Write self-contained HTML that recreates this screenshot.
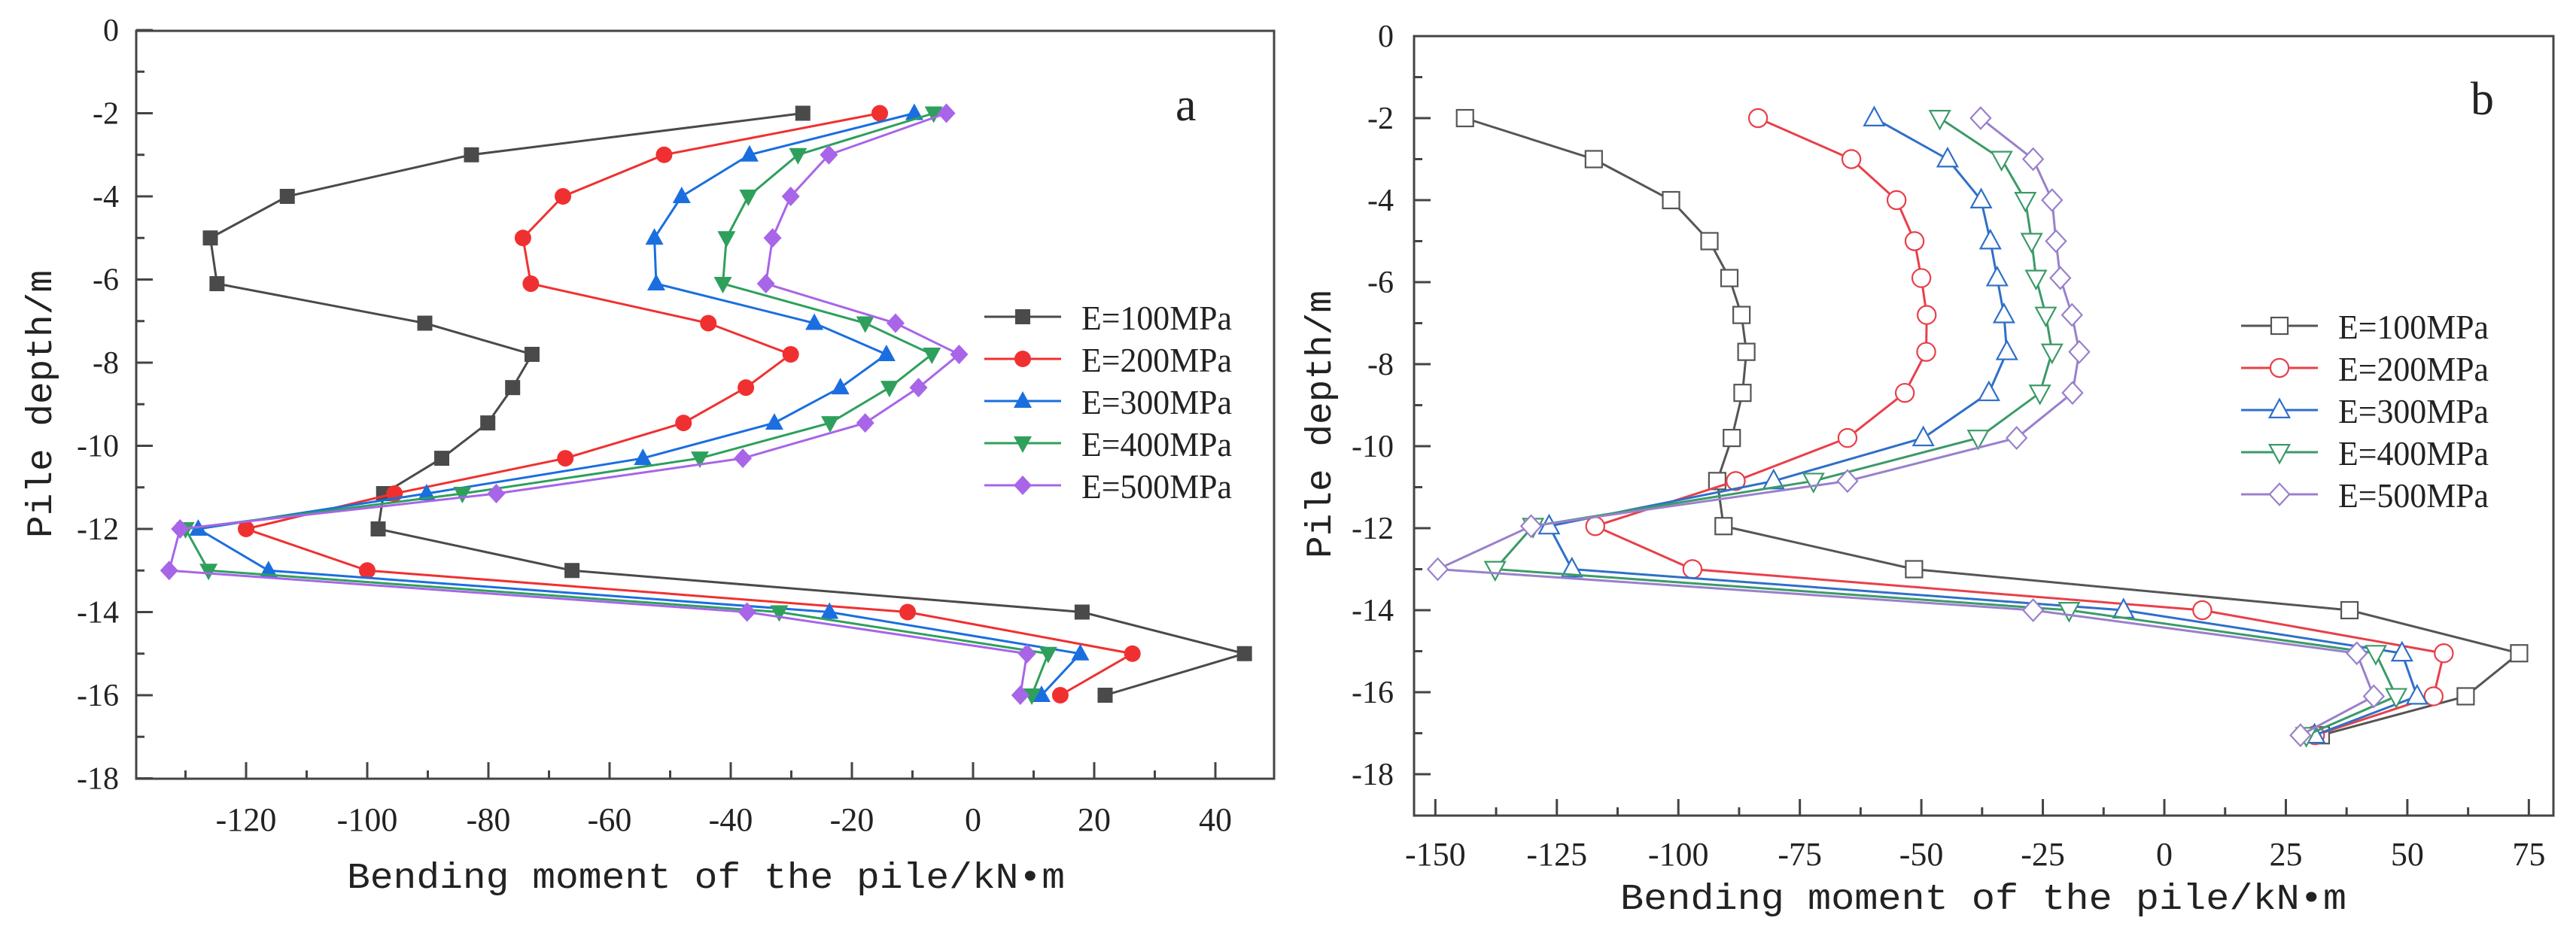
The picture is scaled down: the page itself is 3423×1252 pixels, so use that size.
<!DOCTYPE html>
<html><head><meta charset="utf-8">
<style>
html,body{margin:0;padding:0;background:#fff;}
svg{display:block;}
text{font-family:"Liberation Serif","Noto Serif CJK SC",serif;fill:#222;}
text.mono{font-family:"Liberation Mono","Noto Sans CJK SC",monospace;}
</style></head>
<body>
<svg id="chart" width="3423" height="1252" viewBox="0 0 3423 1252" xmlns="http://www.w3.org/2000/svg"></svg>
<script>
// ---- Panel a data ----
const seriesNames = ["E=100MPa","E=200MPa","E=300MPa","E=400MPa","E=500MPa"];
const depthsA = [-2,-3,-4,-5,-6.1,-7.05,-7.8,-8.6,-9.45,-10.3,-11.15,-12,-13,-14,-15,-16];
const a100 = [-28.1,-82.8,-113.2,-125.9,-124.8,-90.5,-72.8,-76,-80.1,-87.7,-97.3,-98.2,-66.2,18,44.8,21.8];
const a200 = [-15.4,-51,-67.7,-74.3,-73,-43.7,-30.1,-37.5,-47.8,-67.3,-95.5,-120,-100,-10.8,26.3,14.4];
const a300 = [-9.7,-36.9,-48.1,-52.6,-52.3,-26.2,-14.3,-21.9,-32.8,-54.5,-90.2,-127.9,-116.3,-23.7,17.7,11.3];
const a400 = [-6.5,-28.9,-37.1,-40.7,-41.3,-17.8,-6.8,-13.8,-23.6,-45.1,-84.3,-130,-126.2,-32,12.4,9.7];
const a500 = [-4.4,-23.8,-30.1,-33.1,-34.2,-12.8,-2.3,-9,-17.8,-38,-78.7,-130.9,-132.7,-37.3,8.9,7.8];
const xTicksA = [-120,-100,-80,-60,-40,-20,0,20,40];
// ---- Panel b data ----
const depthsB = [-2,-3,-4,-5,-5.9,-6.8,-7.7,-8.7,-9.8,-10.85,-11.95,-13,-14,-15.05,-16.1,-17.05];
const b100 = [-143.9,-117.4,-101.5,-93.6,-89.5,-87,-86,-86.8,-89,-92,-90.7,-51.5,38.1,73,62,32.2];
const b200 = [-83.6,-64.4,-55.1,-51.4,-50,-48.9,-49,-53.4,-65.2,-88.2,-117.1,-97.1,7.8,57.5,55.4,31];
const b300 = [-59.7,-44.6,-37.7,-35.8,-34.4,-33,-32.4,-36.1,-49.6,-80.4,-126.6,-121.9,-8.4,48.9,52,30.9];
const b400 = [-46.2,-33.5,-28.6,-27.3,-26.4,-24.4,-23.1,-25.6,-38.3,-72.2,-129.9,-137.7,-19.6,43.5,47.7,29.2];
const b500 = [-37.8,-27,-23.1,-22.3,-21.4,-19,-17.5,-18.9,-30.4,-65.2,-130.3,-149.5,-27,39.6,43.1,28];
const xTicksB = [-150,-125,-100,-75,-50,-25,0,25,50,75];
const yTicks = [0,-2,-4,-6,-8,-10,-12,-14,-16,-18];

const NS="http://www.w3.org/2000/svg";
const svg=document.getElementById('chart');
function mk(tag,attrs,parent){const e=document.createElementNS(NS,tag);for(const k in attrs)e.setAttribute(k,attrs[k]);(parent||svg).appendChild(e);return e;}

const colorsA=["#4a4a4a","#f03030","#1a6ee0","#2ea05c","#a865e8"];
const colorsB=["#555555","#e8404a","#2f6fc8","#3c9a68","#9a80cc"];
const shapes=["square","circle","up","down","diamond"];

function marker(g,shape,cx,cy,s,color,filled){
  const f=filled?color:"#fff";
  const sw=filled?0:2.2;
  let e;
  if(shape==="square"){e=mk('rect',{x:cx-s*0.5,y:cy-s*0.5,width:s,height:s,fill:f,stroke:color,'stroke-width':sw},g);}
  else if(shape==="circle"){e=mk('circle',{cx:cx,cy:cy,r:s*0.55,fill:f,stroke:color,'stroke-width':sw},g);}
  else if(shape==="up"){e=mk('polygon',{points:`${cx},${cy-s*0.65} ${cx-s*0.6},${cy+s*0.45} ${cx+s*0.6},${cy+s*0.45}`,fill:f,stroke:color,'stroke-width':sw},g);}
  else if(shape==="down"){e=mk('polygon',{points:`${cx},${cy+s*0.65} ${cx-s*0.6},${cy-s*0.45} ${cx+s*0.6},${cy-s*0.45}`,fill:f,stroke:color,'stroke-width':sw},g);}
  else {e=mk('polygon',{points:`${cx},${cy-s*0.65} ${cx+s*0.6},${cy} ${cx},${cy+s*0.65} ${cx-s*0.6},${cy}`,fill:f,stroke:color,'stroke-width':sw},g);}
  
  
  return e;
}

function panel(cfg){
  const g=mk('g',{});
  
  
  const X=v=>cfg.x0+v*cfg.xs;
  const Y=v=>cfg.y0-v*cfg.ys;
  const box=mk('rect',{x:cfg.L,y:cfg.T,width:cfg.R-cfg.L,height:cfg.B-cfg.T,fill:'none',stroke:'#444','stroke-width':3},g);
  
  
  cfg.xTicks.forEach((v,i)=>{
    const x=X(v);
    mk('line',{x1:x,y1:cfg.B,x2:x,y2:cfg.B-22,stroke:'#444','stroke-width':3},g);
    if(i<cfg.xTicks.length-1){const xm=X(v+cfg.xStep/2);mk('line',{x1:xm,y1:cfg.B,x2:xm,y2:cfg.B-11,stroke:'#444','stroke-width':3},g);}
    const t=mk('text',{x:x,y:cfg.xLabY,'font-size':44,'text-anchor':'middle'},g);
    t.textContent=String(v);
    
    
  });
  if(cfg.xMinorFirst!==undefined){const xm=X(cfg.xMinorFirst);mk('line',{x1:xm,y1:cfg.B,x2:xm,y2:cfg.B-11,stroke:'#444','stroke-width':3},g);}
  yTicks.forEach((v,i)=>{
    const y=Y(v);
    mk('line',{x1:cfg.L,y1:y,x2:cfg.L+22,y2:y,stroke:'#444','stroke-width':3},g);
    const ym=Y(v-1);
    if(ym<cfg.B-2) mk('line',{x1:cfg.L,y1:ym,x2:cfg.L+11,y2:ym,stroke:'#444','stroke-width':3},g);
    const t=mk('text',{x:cfg.yLabX,y:y+14,'font-size':42,'text-anchor':'end'},g);
    t.textContent=String(v);
    
    
  });
  cfg.series.forEach((vals,si)=>{
    const sg=mk('g',{},g);
    
    
    const pts=vals.map((v,i)=>X(v)+','+Y(cfg.depths[i])).join(' ');
    mk('polyline',{points:pts,fill:'none',stroke:cfg.colors[si],'stroke-width':3},sg);
    vals.forEach((v,i)=>marker(sg,shapes[si],X(v),Y(cfg.depths[i]),cfg.ms,cfg.colors[si],cfg.filled));
  });
  const lg=mk('g',{},g);
  
  
  seriesNames.forEach((n,si)=>{
    const y=cfg.legY[si];
    const eg=mk('g',{},lg);
    
    
    mk('line',{x1:cfg.legX1,y1:y,x2:cfg.legX2,y2:y,stroke:cfg.colors[si],'stroke-width':3},eg);
    marker(eg,shapes[si],(cfg.legX1+cfg.legX2)/2,y,cfg.ms,cfg.colors[si],cfg.filled);
    const t=mk('text',{x:cfg.legTX,y:y+17,'font-size':46,textLength:200,lengthAdjust:'spacingAndGlyphs'},eg);
    t.textContent=n;
  });
  const xt=mk('text',{x:cfg.xtX,y:cfg.xtY,'font-size':48,'class':'mono',textLength:cfg.xtLen,lengthAdjust:'spacingAndGlyphs'},g);
  xt.textContent='Bending moment of the pile/kN\u2022m';
  
  
  const yt=mk('text',{x:0,y:0,'font-size':48,'class':'mono',textLength:356,lengthAdjust:'spacingAndGlyphs','text-anchor':'middle',transform:`translate(${cfg.ytX},${cfg.ytY}) rotate(-90)`},g);
  yt.textContent='Pile depth/m';
  
  
  const pl=mk('text',{x:cfg.lblX,y:cfg.lblY,'font-size':62},g);
  pl.textContent=cfg.label;
  
  
}

panel({name:'panel-a',L:181,T:41,R:1693,B:1035,x0:1293,xs:8.05,y0:40,ys:55.25,
  xTicks:xTicksA,xStep:20,xMinorFirst:-130,xLabY:1104,yLabX:158,depths:depthsA,
  series:[a100,a200,a300,a400,a500],colors:colorsA,filled:true,ms:20,
  legY:[421,477,533,589,645],legX1:1308,legX2:1410,legTX:1437,
  xtX:461,xtY:1180,xtLen:954,ytX:68,ytY:537,lblX:1562,lblY:160,label:'a'});
panel({name:'panel-b',L:1879,T:48,R:3393,B:1084,x0:2876,xs:6.458,y0:48,ys:54.5,
  xTicks:xTicksB,xStep:25,xLabY:1150,yLabX:1852,depths:depthsB,
  series:[b100,b200,b300,b400,b500],colors:colorsB,filled:false,ms:22,
  legY:[433,489,545,601,657],legX1:2978,legX2:3080,legTX:3107,
  xtX:2153,xtY:1208,xtLen:965,ytX:1768,ytY:564,lblX:3283,lblY:152,label:'b'});
</script>
</body></html>
